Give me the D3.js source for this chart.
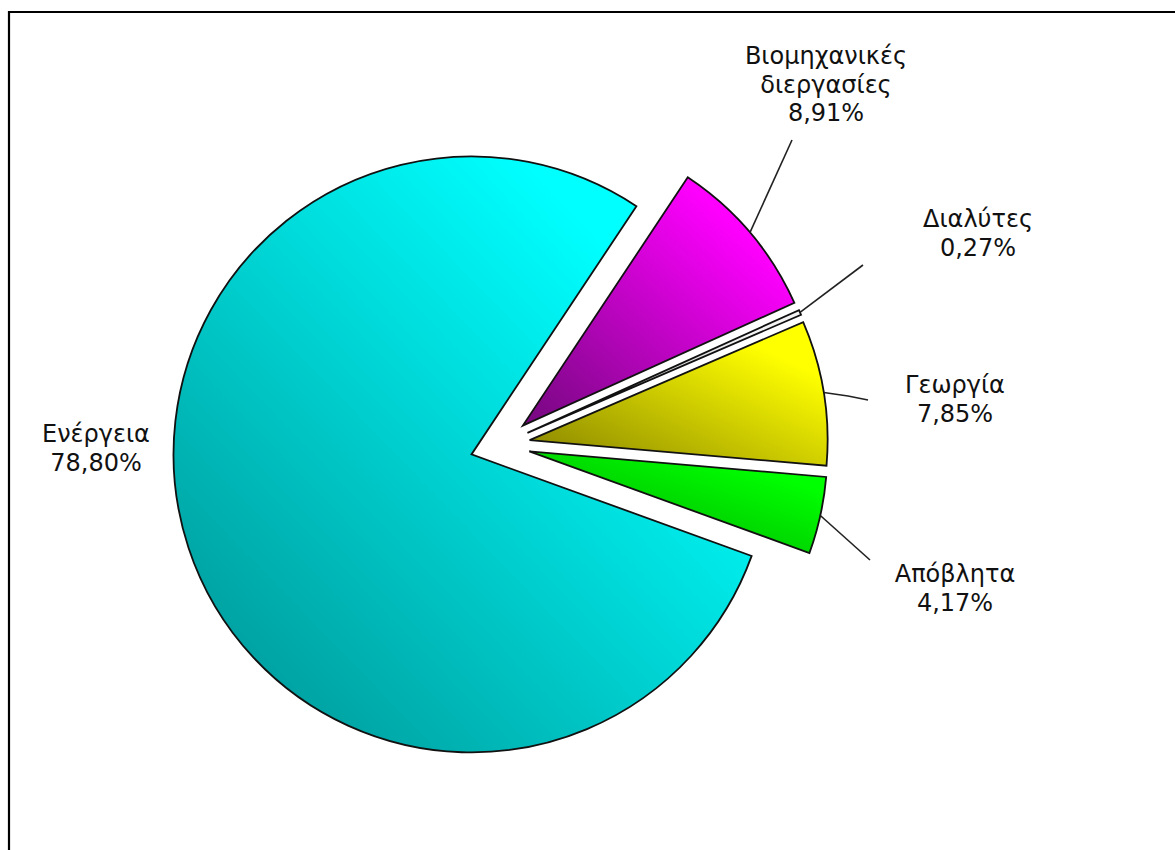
<!DOCTYPE html>
<html>
<head>
<meta charset="utf-8">
<script src="https://cdn.jsdelivr.net/npm/d3@7"></script>
<style>
  html, body { margin: 0; padding: 0; background: #ffffff; }
  svg { display: block; }
  text { font-family: "DejaVu Sans", Verdana, sans-serif; font-size: 24px; fill: #111; }
</style>
</head>
<body>
<svg id="chart" width="1175" height="850"></svg>
<script>
// Emission shares by sector (%)
const categories = ["Βιομηχανικές διεργασίες", "Διαλύτες", "Γεωργία", "Απόβλητα", "Ενέργεια"];
const labelLines = [["Βιομηχανικές", "διεργασίες"], ["Διαλύτες"], ["Γεωργία"], ["Απόβλητα"], ["Ενέργεια"]];
const shares = [8.91, 0.27, 7.85, 4.17, 78.80];
const colorsLight = ["#ff00ff", "#f4f4f4", "#ffff00", "#00ff00", "#00ffff"];
const colorsDark  = ["#74087e", "#9a9a9a", "#848000", "#00a000", "#008e8e"];

// Geometry of the pie
const cx = 500, cy = 445, radius = 298, explode = 30;
const startAngle = 33.6 * Math.PI / 180;

// Where each label sits and where its leader line ends
const labelLayout = [
  { x: 826, y: 64,  end: [792, 140] },
  { x: 978, y: 227, end: [863, 265] },
  { x: 955, y: 393, end: [868, 400], bend: [848, 396] },
  { x: 955, y: 582, end: [870, 560] },
  { x: 96,  y: 442, end: null }
];

const locale = d3.formatLocale({ decimal: ",", thousands: ".", grouping: [3], currency: ["", "€"] });
const fmt = locale.format(".2f");

const svg = d3.select("#chart");
const defs = svg.append("defs");

// Shaded fill for each slice: bright toward the upper right, darker toward the lower left
categories.forEach((c, i) => {
  const g = defs.append("linearGradient")
    .attr("id", "grad" + i)
    .attr("x1", 1).attr("y1", 0).attr("x2", 0).attr("y2", 1);
  g.append("stop").attr("offset", "0%").attr("stop-color", colorsLight[i]);
  g.append("stop").attr("offset", "20%").attr("stop-color", colorsLight[i]);
  g.append("stop").attr("offset", "100%").attr("stop-color", colorsDark[i]);
});

// Frame
svg.append("path")
  .attr("d", "M9,850 V12 H1175")
  .attr("fill", "none")
  .attr("stroke", "#000")
  .attr("stroke-width", 2.2);

const pie = d3.pie()
  .sort(null)
  .value(d => d)
  .startAngle(startAngle)
  .endAngle(startAngle + 2 * Math.PI);

const arcs = pie(shares);
const arc = d3.arc().innerRadius(0).outerRadius(radius);

function offsetOf(d) {
  const mid = (d.startAngle + d.endAngle) / 2;
  return [Math.sin(mid) * explode, -Math.cos(mid) * explode];
}

const g = svg.append("g").attr("transform", `translate(${cx},${cy})`);

g.selectAll("path.slice")
  .data(arcs)
  .join("path")
  .attr("class", "slice")
  .attr("transform", d => { const o = offsetOf(d); return `translate(${o[0]},${o[1]})`; })
  .attr("d", arc)
  .attr("fill", (d, i) => `url(#grad${i})`)
  .attr("stroke", "#111")
  .attr("stroke-width", 1.8)
  .attr("stroke-linejoin", "miter");

// Leader lines from the slice rim to the label
arcs.forEach((d, i) => {
  const L = labelLayout[i];
  if (!L.end) return;
  const mid = (d.startAngle + d.endAngle) / 2;
  const o = offsetOf(d);
  const sx = cx + o[0] + Math.sin(mid) * radius;
  const sy = cy + o[1] - Math.cos(mid) * radius;
  const pts = [[sx, sy]];
  if (L.bend) pts.push(L.bend);
  pts.push(L.end);
  svg.append("path")
    .attr("d", d3.line()(pts))
    .attr("fill", "none")
    .attr("stroke", "#222")
    .attr("stroke-width", 1.6);
});

// Labels: category name then percentage
arcs.forEach((d, i) => {
  const L = labelLayout[i];
  const lines = labelLines[i].concat([fmt(shares[i]) + "%"]);
  const t = svg.append("text")
    .attr("text-anchor", "middle")
    .attr("x", L.x)
    .attr("y", L.y);
  lines.forEach((s, k) => {
    t.append("tspan")
      .attr("x", L.x)
      .attr("dy", k === 0 ? 0 : 28.5)
      .text(s);
  });
});
</script>
</body>
</html>
